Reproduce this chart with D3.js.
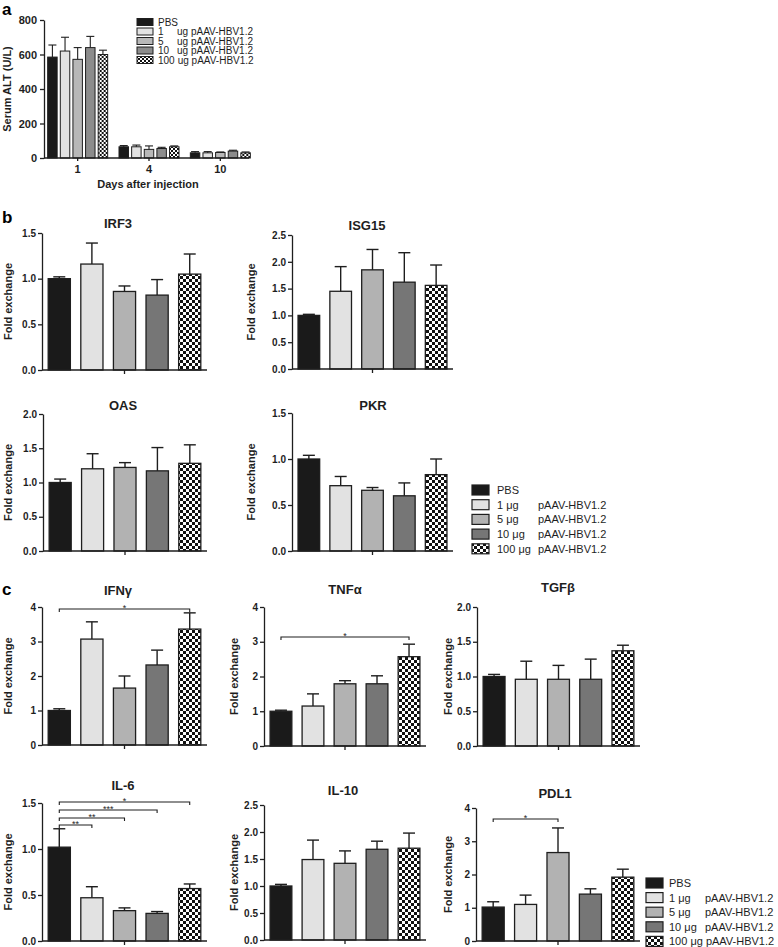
<!DOCTYPE html>
<html>
<head>
<meta charset="utf-8">
<script src="https://cdn.jsdelivr.net/npm/d3@7"></script>
<style>
body{margin:0;background:#fff}
svg{display:block;font-family:"Liberation Sans",Arial,sans-serif}
</style>
</head>
<body>
<script>
// groups (same order in every panel)
var groups = ["PBS", "1 μg", "5 μg", "10 μg", "100 μg"];
var doseNumbers = ["1", "5", "10", "100"];

// panel a : serum ALT
var altDays = ["1", "4", "10"];
var altMean = [[585, 620, 572, 640, 600], [65, 65, 50, 55, 65], [30, 30, 32, 40, 30]];
var altErr = [[70, 80, 68, 65, 25], [7, 10, 20, 7, 5], [7, 7, 3, 5, 5]];
var altTicks = [0, 200, 400, 600, 800];

// panel b
var irf3Mean = [1.0, 1.16, 0.86, 0.82, 1.05], irf3Err = [0.02, 0.23, 0.06, 0.17, 0.22];
var isg15Mean = [1.0, 1.45, 1.85, 1.62, 1.56], isg15Err = [0.02, 0.46, 0.38, 0.55, 0.38];
var oasMean = [1.0, 1.2, 1.22, 1.17, 1.28], oasErr = [0.05, 0.22, 0.07, 0.34, 0.27];
var pkrMean = [1.0, 0.71, 0.66, 0.6, 0.83], pkrErr = [0.04, 0.1, 0.03, 0.14, 0.17];

// panel c
var ifngMean = [1.0, 3.07, 1.65, 2.32, 3.36], ifngErr = [0.05, 0.5, 0.35, 0.43, 0.47];
var tnfaMean = [1.0, 1.15, 1.79, 1.79, 2.57], tnfaErr = [0.03, 0.35, 0.09, 0.23, 0.36];
var tgfbMean = [1.0, 0.96, 0.96, 0.96, 1.37], tgfbErr = [0.03, 0.26, 0.2, 0.29, 0.08];
var il6Mean = [1.02, 0.47, 0.33, 0.30, 0.57], il6Err = [0.2, 0.12, 0.03, 0.02, 0.05];
var il10Mean = [1.0, 1.49, 1.42, 1.68, 1.70], il10Err = [0.03, 0.36, 0.23, 0.15, 0.28];
var pdl1Mean = [1.02, 1.1, 2.66, 1.41, 1.92], pdl1Err = [0.16, 0.28, 0.74, 0.16, 0.24];

// significance comparisons [from, to, label]
var ifngSig = [[0, 4, "*"]];
var tnfaSig = [[0, 4, "*"]];
var il6Sig = [[0, 4, "*"], [0, 3, "***"], [0, 2, "**"], [0, 1, "**"]];
var pdl1Sig = [[0, 2, "*"]];

var ink = "#1e1e1e";
var fills = ["#1a1a1a", "#e2e2e2", "#b2b2b2", "#767676", "url(#checker)"];
var fillsA = ["#1a1a1a", "#e2e2e2", "#b8b8b8", "#8c8c8c", "url(#checkerSmall)"];

var svg = d3.select("body").append("svg").attr("width", 778).attr("height", 947);

var defs = svg.append("defs");
function addChecker(id, s) {
    var pat = defs.append("pattern").attr("id", id).attr("patternUnits", "userSpaceOnUse")
        .attr("width", 2 * s).attr("height", 2 * s);
    pat.append("rect").attr("width", 2 * s).attr("height", 2 * s).attr("fill", "#fff");
    pat.append("rect").attr("width", s).attr("height", s).attr("fill", "#111");
    pat.append("rect").attr("x", s).attr("y", s).attr("width", s).attr("height", s).attr("fill", "#111");
}
addChecker("checker", 3);
addChecker("checkerSmall", 2);

function styleAxis(sel, size) {
    sel.select(".domain").attr("stroke", ink).attr("stroke-width", 1.3);
    sel.selectAll(".tick line").attr("stroke", ink).attr("stroke-width", 1.3);
    sel.selectAll(".tick text").attr("fill", ink).attr("font-size", size).attr("font-weight", "bold")
        .attr("font-family", "'Liberation Sans', Arial, sans-serif");
}

function panelLetter(t, x, y) {
    svg.append("text").attr("x", x).attr("y", y).text(t)
        .attr("font-size", 17).attr("font-weight", "bold").attr("fill", "#000");
}

function yTitle(t, x, yc, size) {
    svg.append("text").attr("transform", "translate(" + x + "," + yc + ") rotate(-90)")
        .attr("text-anchor", "middle").attr("font-size", size).attr("font-weight", "bold")
        .attr("fill", ink).text(t);
}

// ---------- panel a ----------
panelLetter("a", 2, 15);
(function () {
    var y = d3.scaleLinear().domain([0, 800]).range([158, 20]);
    var x0 = d3.scaleBand().domain(altDays).range([42, 256]);
    var x1 = d3.scaleBand().domain(groups).range([-30, 30]).paddingInner(0.25);
    var g = svg.append("g");

    altDays.forEach(function (day, di) {
        var cx = x0(day) + x0.bandwidth() / 2;
        var gg = g.append("g").attr("transform", "translate(" + cx + ",0)");
        gg.selectAll("rect").data(altMean[di]).join("rect")
            .attr("x", function (d, i) { return x1(groups[i]); })
            .attr("y", function (d) { return y(d); })
            .attr("width", x1.bandwidth())
            .attr("height", function (d) { return y(0) - y(d); })
            .attr("fill", function (d, i) { return fillsA[i]; })
            .attr("stroke", ink).attr("stroke-width", 1);
        altMean[di].forEach(function (m, i) {
            var bx = x1(groups[i]) + x1.bandwidth() / 2;
            gg.append("line").attr("x1", bx).attr("x2", bx).attr("y1", y(m)).attr("y2", y(m + altErr[di][i]))
                .attr("stroke", ink).attr("stroke-width", 1.1);
            gg.append("line").attr("x1", bx - 4).attr("x2", bx + 4)
                .attr("y1", y(m + altErr[di][i])).attr("y2", y(m + altErr[di][i]))
                .attr("stroke", ink).attr("stroke-width", 1.1);
        });
    });

    var ay = g.append("g").attr("transform", "translate(44,0)")
        .call(d3.axisLeft(y).tickValues(altTicks).tickSize(4).tickSizeOuter(0));
    styleAxis(ay, 11);
    var ax = g.append("g").attr("transform", "translate(0,158)")
        .call(d3.axisBottom(x0).tickSize(3).tickPadding(4));
    ax.select(".domain").remove();
    styleAxis(ax, 11);
    g.append("line").attr("x1", 44).attr("x2", 249).attr("y1", 158).attr("y2", 158)
        .attr("stroke", ink).attr("stroke-width", 1.3);

    svg.append("text").attr("x", 148).attr("y", 188).attr("text-anchor", "middle")
        .attr("font-size", 11).attr("font-weight", "bold").attr("fill", ink).text("Days after injection");
    yTitle("Serum ALT (U/L)", 11, 89, 11);

    // legend a
    var lg = svg.append("g");
    groups.forEach(function (gr, i) {
        var cy = 22 + i * 9.5;
        lg.append("rect").attr("x", 137).attr("y", cy - 3.5).attr("width", 16).attr("height", 7)
            .attr("fill", fillsA[i]).attr("stroke", ink).attr("stroke-width", 1);
        if (i === 0) {
            lg.append("text").attr("x", 158).attr("y", cy + 3.5).attr("font-size", 10).attr("fill", ink).text("PBS");
        } else {
            var t = lg.append("text").attr("x", 158).attr("y", cy + 3.5).attr("font-size", 10).attr("fill", ink)
                .text(doseNumbers[i - 1]);
            var end = 158 + t.node().getComputedTextLength();
            lg.append("text").attr("x", Math.max(177, end + 3)).attr("y", cy + 3.5).attr("font-size", 10)
                .attr("fill", ink).text("ug pAAV-HBV1.2");
        }
    });
})();

// ---------- gene panels ----------
function drawPanel(p) {
    var g = svg.append("g");
    var y = d3.scaleLinear().domain([0, p.max]).range([p.yBot, p.yTop]);
    var x = d3.scaleBand().domain(groups).range([p.x0, p.x1]).paddingInner(0.32).paddingOuter(0.19);
    var ticks = d3.range(0, p.max + p.step / 2, p.step);

    g.selectAll("rect.bar").data(p.mean).join("rect").attr("class", "bar")
        .attr("x", function (d, i) { return x(groups[i]); })
        .attr("y", function (d) { return y(d); })
        .attr("width", x.bandwidth())
        .attr("height", function (d) { return y(0) - y(d); })
        .attr("fill", function (d, i) { return fills[i]; })
        .attr("stroke", ink).attr("stroke-width", 1.3);

    p.mean.forEach(function (m, i) {
        var bx = x(groups[i]) + x.bandwidth() / 2;
        var top = y(m + p.err[i]);
        g.append("line").attr("x1", bx).attr("x2", bx).attr("y1", y(m)).attr("y2", top)
            .attr("stroke", ink).attr("stroke-width", 1.4);
        g.append("line").attr("x1", bx - 6).attr("x2", bx + 6).attr("y1", top).attr("y2", top)
            .attr("stroke", ink).attr("stroke-width", 1.4);
    });

    var ay = g.append("g").attr("transform", "translate(" + p.x0 + ",0)")
        .call(d3.axisLeft(y).tickValues(ticks).tickFormat(d3.format(p.fmt)).tickSize(4).tickSizeOuter(0).tickPadding(2));
    styleAxis(ay, 10);
    g.append("line").attr("x1", p.x0).attr("x2", p.x1).attr("y1", p.yBot).attr("y2", p.yBot)
        .attr("stroke", ink).attr("stroke-width", 1.3);
    var mid = (x(groups[2]) + x.bandwidth() / 2);
    g.append("line").attr("x1", mid).attr("x2", mid).attr("y1", p.yBot).attr("y2", p.yBot + 4)
        .attr("stroke", ink).attr("stroke-width", 1.3);

    g.append("text").attr("x", p.tx).attr("y", p.ty).attr("text-anchor", "middle")
        .attr("font-size", 13).attr("font-weight", "bold").attr("fill", ink).text(p.title);
    yTitle("Fold exchange", p.lx, (p.yTop + p.yBot) / 2, 11);

    if (p.sig) {
        p.sig.forEach(function (s, k) {
            var xa = x(groups[s[0]]) + x.bandwidth() / 2;
            var xb = x(groups[s[1]]) + x.bandwidth() / 2;
            var by = p.sigY[k];
            g.append("path").attr("d", "M" + xa + "," + (by + 3) + "V" + by + "H" + xb + "V" + (by + 3))
                .attr("fill", "none").attr("stroke", ink).attr("stroke-width", 1.1);
            g.append("text").attr("x", (xa + xb) / 2).attr("y", by + 1.5).attr("text-anchor", "middle")
                .attr("font-size", 9).attr("fill", ink).text(s[2]);
        });
    }
}

var panelsB = [
    {title: "IRF3", mean: irf3Mean, err: irf3Err, max: 1.5, step: 0.5, fmt: ".1f", x0: 42, x1: 207, yTop: 233, yBot: 370, tx: 118, ty: 228, lx: 12},
    {title: "ISG15", mean: isg15Mean, err: isg15Err, max: 2.5, step: 0.5, fmt: ".1f", x0: 292, x1: 453, yTop: 235, yBot: 369, tx: 367, ty: 230, lx: 255},
    {title: "OAS", mean: oasMean, err: oasErr, max: 2.0, step: 0.5, fmt: ".1f", x0: 43, x1: 207, yTop: 414, yBot: 551, tx: 123, ty: 410, lx: 12},
    {title: "PKR", mean: pkrMean, err: pkrErr, max: 1.5, step: 0.5, fmt: ".1f", x0: 292, x1: 453, yTop: 413, yBot: 551, tx: 373, ty: 410, lx: 255}
];
var panelsC = [
    {title: "IFNγ", mean: ifngMean, err: ifngErr, max: 4, step: 1, fmt: "d", x0: 42, x1: 207, yTop: 607, yBot: 745, tx: 118, ty: 595, lx: 12, sig: ifngSig, sigY: [609]},
    {title: "TNFα", mean: tnfaMean, err: tnfaErr, max: 4, step: 1, fmt: "d", x0: 264, x1: 426, yTop: 607, yBot: 746, tx: 345, ty: 594, lx: 238, sig: tnfaSig, sigY: [637]},
    {title: "TGFβ", mean: tgfbMean, err: tgfbErr, max: 2, step: 0.5, fmt: ".1f", x0: 477, x1: 640, yTop: 607, yBot: 746, tx: 558, ty: 592, lx: 452},
    {title: "IL-6", mean: il6Mean, err: il6Err, max: 1.5, step: 0.5, fmt: ".1f", x0: 42, x1: 207, yTop: 803, yBot: 941, tx: 123, ty: 790, lx: 12, sig: il6Sig, sigY: [802, 810, 818, 825]},
    {title: "IL-10", mean: il10Mean, err: il10Err, max: 2.5, step: 0.5, fmt: ".1f", x0: 264, x1: 426, yTop: 805, yBot: 940, tx: 343, ty: 795, lx: 238},
    {title: "PDL1", mean: pdl1Mean, err: pdl1Err, max: 4, step: 1, fmt: "d", x0: 476, x1: 640, yTop: 808, yBot: 941, tx: 555, ty: 798, lx: 452, sig: pdl1Sig, sigY: [819]}
];

panelLetter("b", 2, 223);
panelsB.forEach(drawPanel);
panelLetter("c", 2, 595);
panelsC.forEach(drawPanel);

// legends b and c
function geneLegend(sx, textX, colX, y0, dy) {
    var lg = svg.append("g");
    groups.forEach(function (gr, i) {
        var cy = y0 + i * dy;
        lg.append("rect").attr("x", sx).attr("y", cy - 5).attr("width", 17).attr("height", 10)
            .attr("fill", fills[i]).attr("stroke", ink).attr("stroke-width", 1.2);
        var t = lg.append("text").attr("x", textX).attr("y", cy + 4).attr("font-size", 11).attr("fill", ink).text(gr);
        if (i > 0) {
            var end = textX + t.node().getComputedTextLength();
            lg.append("text").attr("x", Math.max(colX, end + 3)).attr("y", cy + 4).attr("font-size", 11)
                .attr("fill", ink).text("pAAV-HBV1.2");
        }
    });
}
geneLegend(472, 497, 538, 490, 14.7);
geneLegend(646, 669, 705, 883, 14.6);
</script>
</body>
</html>
